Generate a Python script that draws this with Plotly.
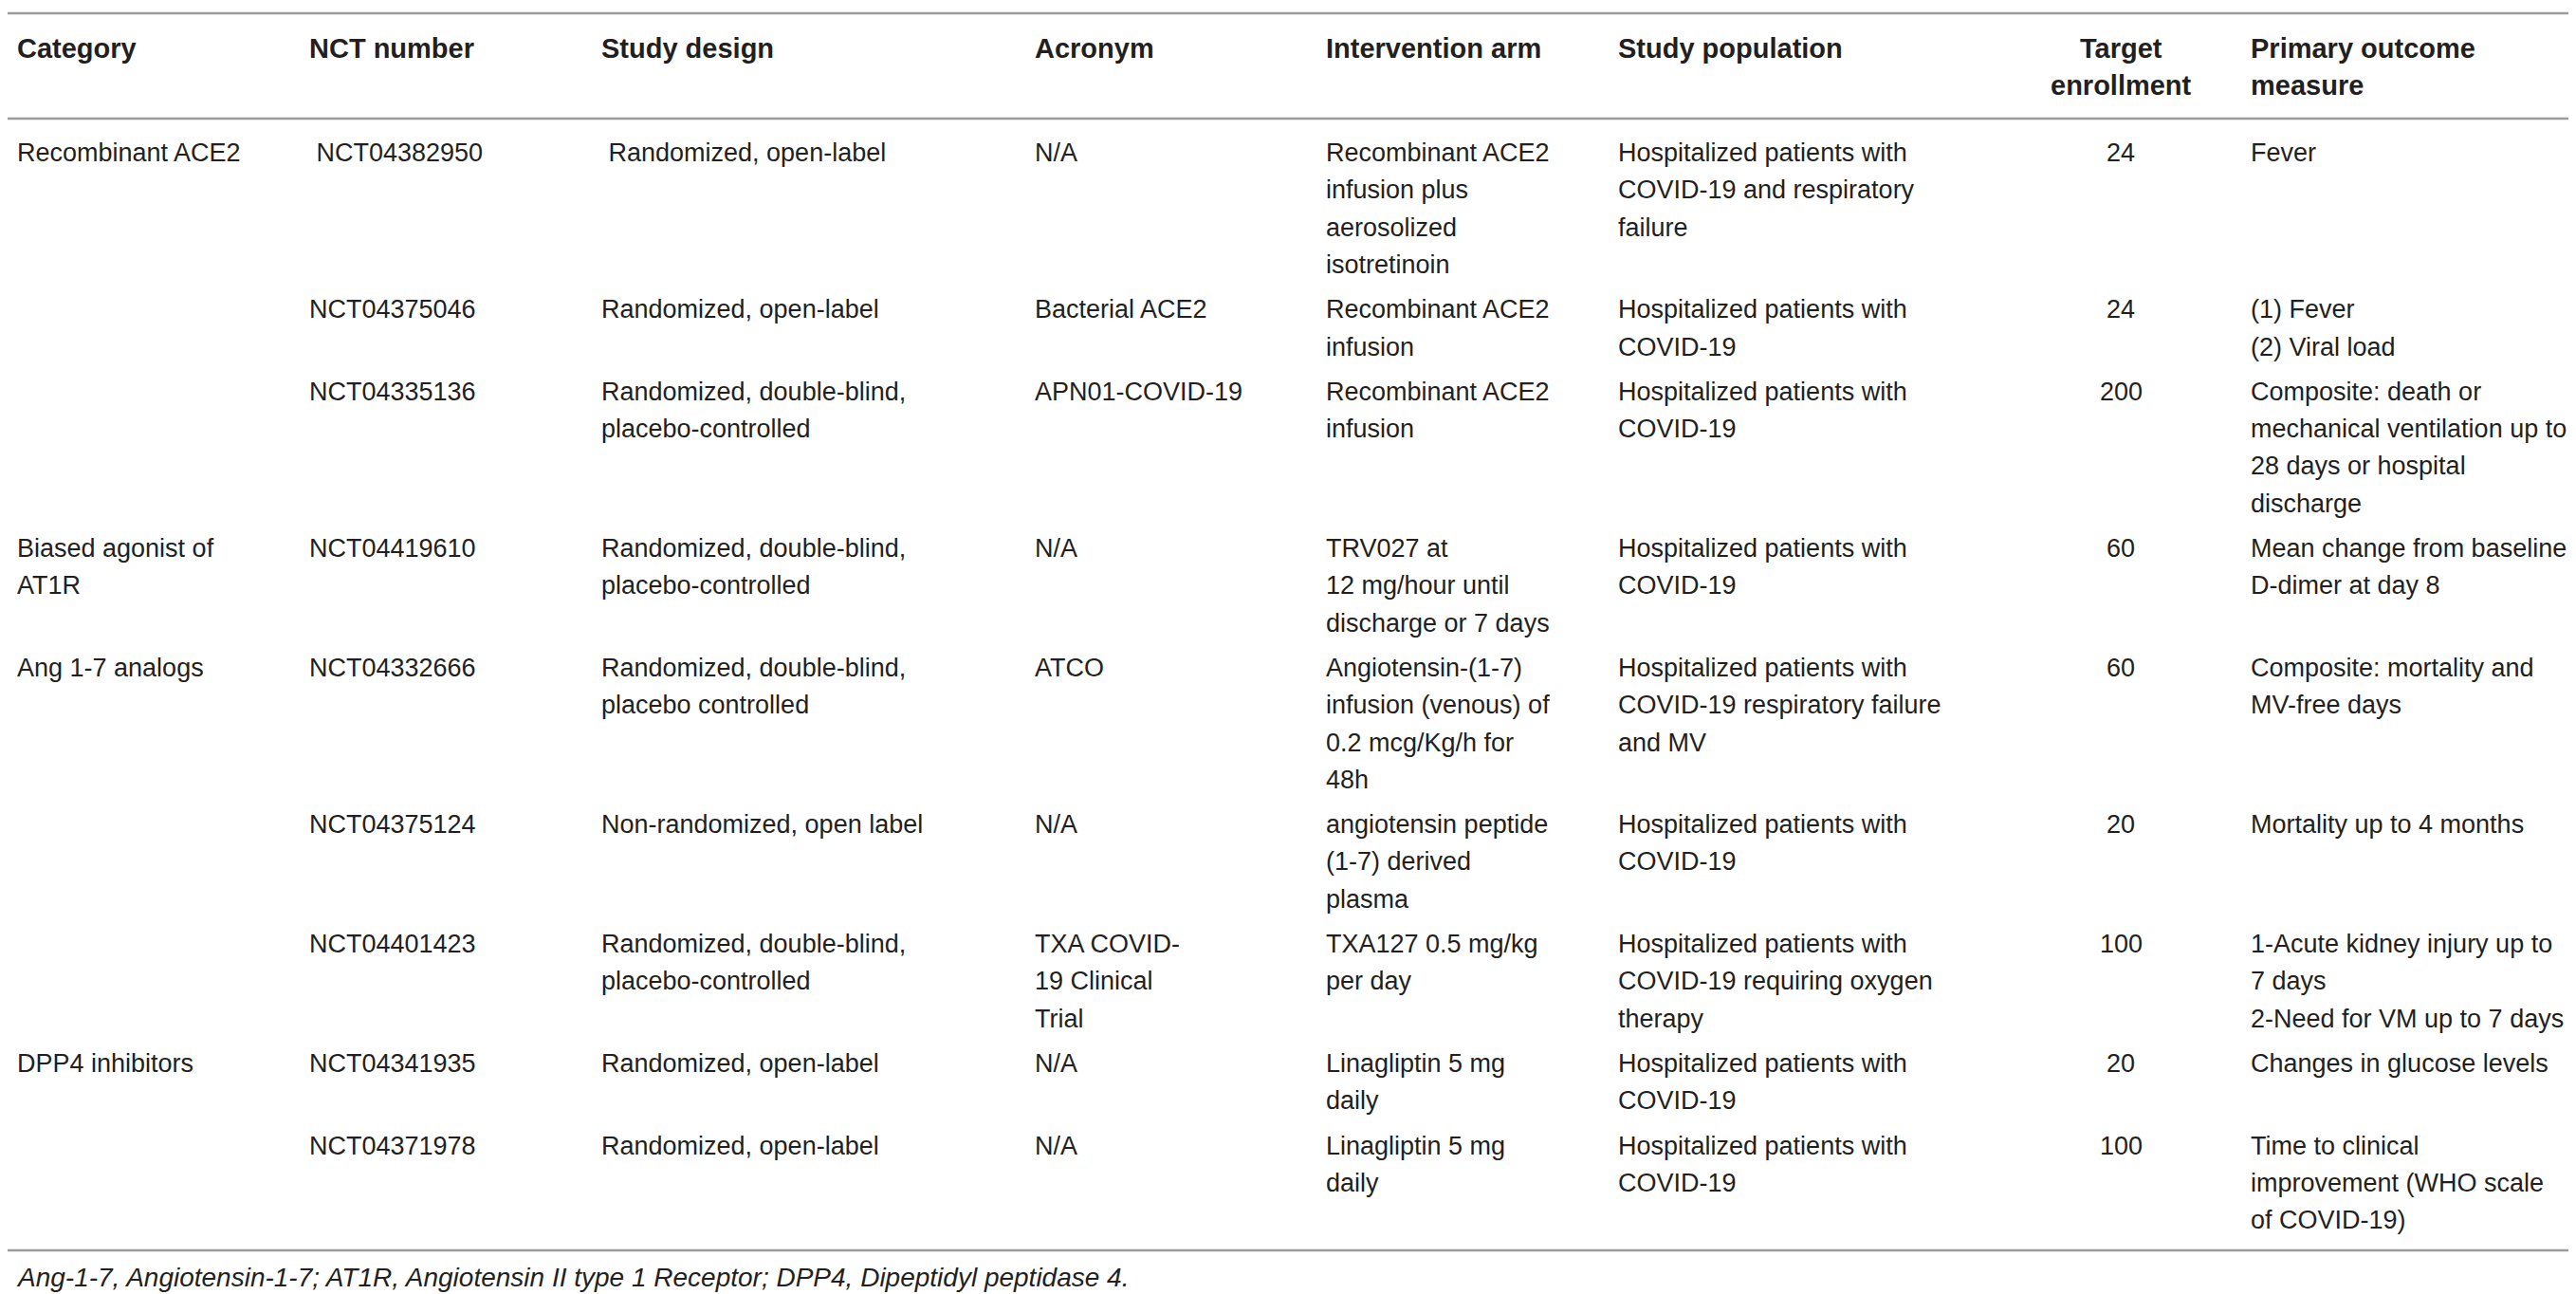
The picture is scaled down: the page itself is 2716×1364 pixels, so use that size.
import plotly.graph_objects as go

# ---------------- data ----------------
headers = ["Category", "NCT number", "Study design", "Acronym", "Intervention arm",
           "Study population", "Target\nenrollment", "Primary outcome\nmeasure"]

categories = ["Recombinant ACE2", "", "", "Biased agonist of\nAT1R", "Ang 1-7 analogs", "", "",
              "DPP4 inhibitors", ""]
nct_numbers = ["\u00a0NCT04382950", "NCT04375046", "NCT04335136", "NCT04419610", "NCT04332666",
               "NCT04375124", "NCT04401423", "NCT04341935", "NCT04371978"]
study_designs = ["\u00a0Randomized, open-label", "Randomized, open-label",
                 "Randomized, double-blind,\nplacebo-controlled",
                 "Randomized, double-blind,\nplacebo-controlled",
                 "Randomized, double-blind,\nplacebo controlled",
                 "Non-randomized, open label",
                 "Randomized, double-blind,\nplacebo-controlled",
                 "Randomized, open-label", "Randomized, open-label"]
acronyms = ["N/A", "Bacterial ACE2", "APN01-COVID-19", "N/A", "ATCO", "N/A",
            "TXA COVID-\n19 Clinical\nTrial", "N/A", "N/A"]
interventions = ["Recombinant ACE2\ninfusion plus\naerosolized\nisotretinoin",
                 "Recombinant ACE2\ninfusion",
                 "Recombinant ACE2\ninfusion",
                 "TRV027 at\n12 mg/hour until\ndischarge or 7 days",
                 "Angiotensin-(1-7)\ninfusion (venous) of\n0.2 mcg/Kg/h for\n48h",
                 "angiotensin peptide\n(1-7) derived\nplasma",
                 "TXA127 0.5 mg/kg\nper day",
                 "Linagliptin 5 mg\ndaily",
                 "Linagliptin 5 mg\ndaily"]
populations = ["Hospitalized patients with\nCOVID-19 and respiratory\nfailure",
               "Hospitalized patients with\nCOVID-19",
               "Hospitalized patients with\nCOVID-19",
               "Hospitalized patients with\nCOVID-19",
               "Hospitalized patients with\nCOVID-19 respiratory failure\nand MV",
               "Hospitalized patients with\nCOVID-19",
               "Hospitalized patients with\nCOVID-19 requiring oxygen\ntherapy",
               "Hospitalized patients with\nCOVID-19",
               "Hospitalized patients with\nCOVID-19"]
enrollment = [24, 24, 200, 60, 60, 20, 100, 20, 100]
outcomes = ["Fever",
            "(1) Fever\n(2) Viral load",
            "Composite: death or\nmechanical ventilation up to\n28 days or hospital\ndischarge",
            "Mean change from baseline\nD-dimer at day 8",
            "Composite: mortality and\nMV-free days",
            "Mortality up to 4 months",
            "1-Acute kidney injury up to\n7 days\n2-Need for VM up to 7 days",
            "Changes in glucose levels",
            "Time to clinical\nimprovement (WHO scale\nof COVID-19)"]
footnote = "Ang-1-7, Angiotensin-1-7; AT1R, Angiotensin II type 1 Receptor; DPP4, Dipeptidyl peptidase 4."

# ---------------- layout ----------------
W, H = 2716, 1364
col_x = [8, 316, 624, 1081, 1388, 1696, 2228, 2363]
col_anchor = ["left"] * 6 + ["center", "left"]
LINE_H = 39.3
ROW_GAP = 8.0
HEADER_Y = 43
TOP_LINE_Y = 6
HEAD_LINE_Y = 117
FIRST_ROW_Y = 153
TEXT_COLOR = "#231f20"
RULE_COLOR = "#9c9c9c"
FONT = "Liberation Sans"
FS = 27
FS_HEAD = 29
FS_NOTE = 28

columns = [categories, nct_numbers, study_designs, acronyms, interventions,
           populations, [str(v) for v in enrollment], outcomes]

annotations = []

def add_lines(text, x, y0, anchor, size, bold=False, italic=False):
    for k, line in enumerate(text.split("\n")):
        if not line:
            continue
        t = line
        if bold:
            t = "<b>" + t + "</b>"
        if italic:
            t = "<i>" + t + "</i>"
        annotations.append(dict(
            x=x, y=y0 + k * LINE_H, xref="x", yref="y", text=t, showarrow=False,
            xanchor=anchor, yanchor="middle", align=anchor,
            font=dict(family=FONT, size=size, color=TEXT_COLOR)))

for ci, h in enumerate(headers):
    add_lines(h, col_x[ci], HEADER_Y, col_anchor[ci], FS_HEAD, bold=True)

y = FIRST_ROW_Y
for ri in range(len(nct_numbers)):
    nlines = max(len(col[ri].split("\n")) for col in columns)
    for ci, col in enumerate(columns):
        add_lines(col[ri], col_x[ci], y, col_anchor[ci], FS)
    last_y = y + (nlines - 1) * LINE_H
    y += nlines * LINE_H + ROW_GAP

BOTTOM_LINE_Y = last_y + 32
add_lines(footnote, 7, BOTTOM_LINE_Y + 28, "left", FS_NOTE, italic=True)

shapes = []
for ly in [TOP_LINE_Y, HEAD_LINE_Y, BOTTOM_LINE_Y]:
    shapes.append(dict(type="line", xref="x", yref="y", x0=0, x1=2710, y0=ly, y1=ly,
                       line=dict(color=RULE_COLOR, width=2.5)))

fig = go.Figure()
fig.update_layout(
    width=W, height=H, margin=dict(l=0, r=0, t=0, b=0),
    paper_bgcolor="white", plot_bgcolor="white",
    xaxis=dict(range=[0, W], visible=False, fixedrange=True),
    yaxis=dict(range=[H, 0], visible=False, fixedrange=True),
    annotations=annotations, shapes=shapes, showlegend=False,
)
fig.write_html("out.html", config={"displayModeBar": False})
